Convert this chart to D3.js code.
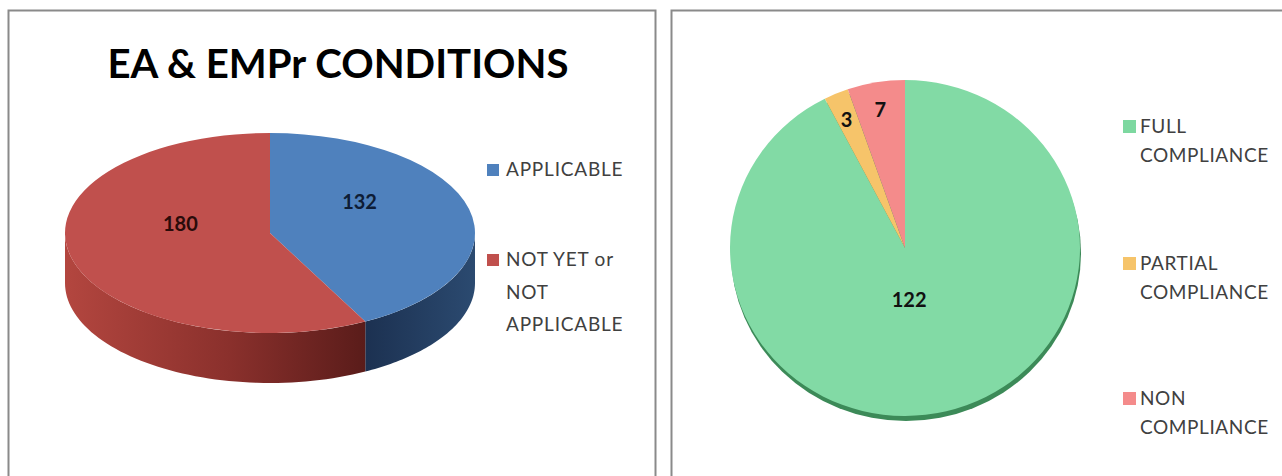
<!DOCTYPE html>
<html>
<head>
<meta charset="utf-8">
<script src="https://cdn.jsdelivr.net/npm/d3@7"></script>
<style>
  html, body { margin: 0; padding: 0; background: #fff; }
  svg { display: block; }
  text { font-family: Lato, "Open Sans", sans-serif; }
</style>
</head>
<body>
<div id="chart"></div>
<script>
// ── DATA ────────────────────────────────────────────────────────────────
const conditionTitle = "EA & EMPr CONDITIONS";
const conditionCategories = ["APPLICABLE", "NOT YET or NOT APPLICABLE"];
const conditionValues = [132, 180];
const conditionLegendLines = [["APPLICABLE"], ["NOT YET or", "NOT", "APPLICABLE"]];
const conditionColors = ["#4f81bd", "#c0504d"];

const complianceCategories = ["FULL COMPLIANCE", "PARTIAL COMPLIANCE", "NON COMPLIANCE"];
const complianceValues = [122, 3, 7];
const complianceLegendLines = [["FULL", "COMPLIANCE"], ["PARTIAL", "COMPLIANCE"], ["NON", "COMPLIANCE"]];
const complianceColors = ["#7dd8a0", "#f6c46a", "#f48b8b"];

(function () {
    const width = 1282, height = 476;

    const svg = d3.select("#chart").append("svg")
        .attr("width", width)
        .attr("height", height);
    const defs = svg.append("defs");

    // ── PANEL FRAMES ───────────────────────────────────────────────────
    svg.append("rect")
        .attr("x", 8.5).attr("y", 10.5).attr("width", 647).attr("height", 490)
        .attr("fill", "#fff").attr("stroke", "#8a8a8a").attr("stroke-width", 2);
    svg.append("rect")
        .attr("x", 671.5).attr("y", 10.5).attr("width", 640).attr("height", 490)
        .attr("fill", "#fff").attr("stroke", "#8a8a8a").attr("stroke-width", 2);

    const pie = d3.pie().sort(null).value(d => d);

    // ── LEFT: 3D PIE ───────────────────────────────────────────────────
    svg.append("text")
        .attr("x", 338).attr("y", 78)
        .attr("text-anchor", "middle")
        .attr("font-size", 40).attr("font-weight", 700)
        .attr("textLength", 461).attr("lengthAdjust", "spacingAndGlyphs")
        .attr("fill", "#000")
        .text(conditionTitle);

    const L = { cx: 270, cy: 233, rx: 205, ry: 100, depth: 50 };
    const leftArcs = pie(conditionValues);
    const splitX = L.cx + L.rx * Math.sin(leftArcs[0].endAngle);

    // side wall shading, one gradient per slice (blue, red)
    const sideStops = [
        [["0%", "#1c3151"], ["100%", "#2b4a70"]],
        [["0%", "#b3463f"], ["55%", "#8a302c"], ["100%", "#5a1c1a"]]
    ];
    const sideRanges = [[splitX, L.cx + L.rx], [L.cx - L.rx, splitX]];
    sideStops.forEach((stops, i) => {
        const gr = defs.append("linearGradient")
            .attr("id", "side" + i)
            .attr("gradientUnits", "userSpaceOnUse")
            .attr("x1", sideRanges[i][0]).attr("y1", 0)
            .attr("x2", sideRanges[i][1]).attr("y2", 0);
        stops.forEach(s => gr.append("stop").attr("offset", s[0]).attr("stop-color", s[1]));
    });

    const pt = (a, dy) => [L.cx + L.rx * Math.sin(a), L.cy - L.ry * Math.cos(a) + dy];

    function sidePath(a0, a1) {
        const s = Math.max(a0, Math.PI / 2), e = Math.min(a1, 3 * Math.PI / 2);
        if (e <= s) return null;
        const angles = d3.range(s, e, (e - s) / 60).concat([e]);
        const top = angles.map(a => pt(a, 0));
        const bottom = angles.slice().reverse().map(a => pt(a, L.depth));
        return d3.line()(top.concat(bottom)) + "Z";
    }

    const leftG = svg.append("g");
    leftG.selectAll(".side")
        .data(leftArcs)
        .enter().append("path")
        .attr("class", "side")
        .attr("d", d => sidePath(d.startAngle, d.endAngle))
        .attr("fill", (d, i) => `url(#side${i})`);

    const topArc = d3.arc().innerRadius(0).outerRadius(L.rx);
    leftG.append("g")
        .attr("transform", `translate(${L.cx},${L.cy}) scale(1,${L.ry / L.rx})`)
        .selectAll("path")
        .data(leftArcs)
        .enter().append("path")
        .attr("d", topArc)
        .attr("fill", (d, i) => conditionColors[i]);

    const labelColorsLeft = ["#0e1d36", "#2a0b0a"];
    leftG.selectAll(".lbl")
        .data(leftArcs)
        .enter().append("text")
        .attr("class", "lbl")
        .attr("x", d => L.cx + 0.45 * L.rx * Math.sin((d.startAngle + d.endAngle) / 2))
        .attr("y", d => L.cy - 0.45 * L.ry * Math.cos((d.startAngle + d.endAngle) / 2) - 20)
        .attr("dy", "0.35em")
        .attr("text-anchor", "middle")
        .attr("font-size", 20).attr("font-weight", 700)
        .attr("fill", (d, i) => labelColorsLeft[i])
        .text(d => d.data);

    // legend
    const legendYLeft = [164, 254];
    conditionCategories.forEach((c, i) => {
        const g = svg.append("g").attr("transform", `translate(487,${legendYLeft[i]})`);
        g.append("rect").attr("width", 12).attr("height", 12).attr("fill", conditionColors[i]);
        conditionLegendLines[i].forEach((line, j) => {
            g.append("text")
                .attr("x", 19).attr("y", 12 + j * 32.5)
                .attr("font-size", 19).attr("letter-spacing", 0.8)
                .attr("fill", "#404040")
                .text(line);
        });
    });

    // ── RIGHT: PIE ─────────────────────────────────────────────────────
    const R = { cx: 905, cy: 248, rx: 175, ry: 168 };
    const rightArcs = pie(complianceValues);

    const greenGrad = defs.append("linearGradient")
        .attr("id", "greenTop")
        .attr("gradientUnits", "userSpaceOnUse")
        .attr("x1", R.cx - R.rx).attr("y1", 0).attr("x2", R.cx + R.rx).attr("y2", 0);
    greenGrad.append("stop").attr("offset", "0%").attr("stop-color", "#82daa5");
    greenGrad.append("stop").attr("offset", "100%").attr("stop-color", "#78d19b");

    const rightG = svg.append("g");
    // thin dark edge showing below the disc
    rightG.append("ellipse")
        .attr("cx", R.cx + 1).attr("cy", R.cy + 5)
        .attr("rx", R.rx).attr("ry", R.ry)
        .attr("fill", "#3c8a58");

    const rArc = d3.arc().innerRadius(0).outerRadius(R.rx);
    rightG.append("g")
        .attr("transform", `translate(${R.cx},${R.cy}) scale(1,${R.ry / R.rx})`)
        .selectAll("path")
        .data(rightArcs)
        .enter().append("path")
        .attr("d", rArc)
        .attr("fill", (d, i) => i === 0 ? "url(#greenTop)" : complianceColors[i]);

    const total = d3.sum(complianceValues);
    rightG.selectAll(".lbl")
        .data(rightArcs)
        .enter().append("text")
        .attr("class", "lbl")
        .attr("x", d => {
            const k = d.data / total < 0.1 ? 0.85 : 0.1;
            return R.cx + k * R.rx * Math.sin((d.startAngle + d.endAngle) / 2);
        })
        .attr("y", d => {
            const k = d.data / total < 0.1 ? 0.83 : 0.32;
            return R.cy - k * R.ry * Math.cos((d.startAngle + d.endAngle) / 2);
        })
        .attr("dy", "0.35em")
        .attr("text-anchor", "middle")
        .attr("font-size", 20).attr("font-weight", 700)
        .attr("fill", "#111")
        .text(d => d.data);

    const legendYRight = [120, 257, 392];
    complianceCategories.forEach((c, i) => {
        const g = svg.append("g").attr("transform", `translate(1123,${legendYRight[i]})`);
        g.append("rect").attr("width", 13).attr("height", 13).attr("fill", complianceColors[i]);
        complianceLegendLines[i].forEach((line, j) => {
            g.append("text")
                .attr("x", 17).attr("y", 13 + j * 28.5)
                .attr("font-size", 19).attr("letter-spacing", 0.6)
                .attr("fill", "#404040")
                .text(line);
        });
    });
})();
</script>
</body>
</html>
